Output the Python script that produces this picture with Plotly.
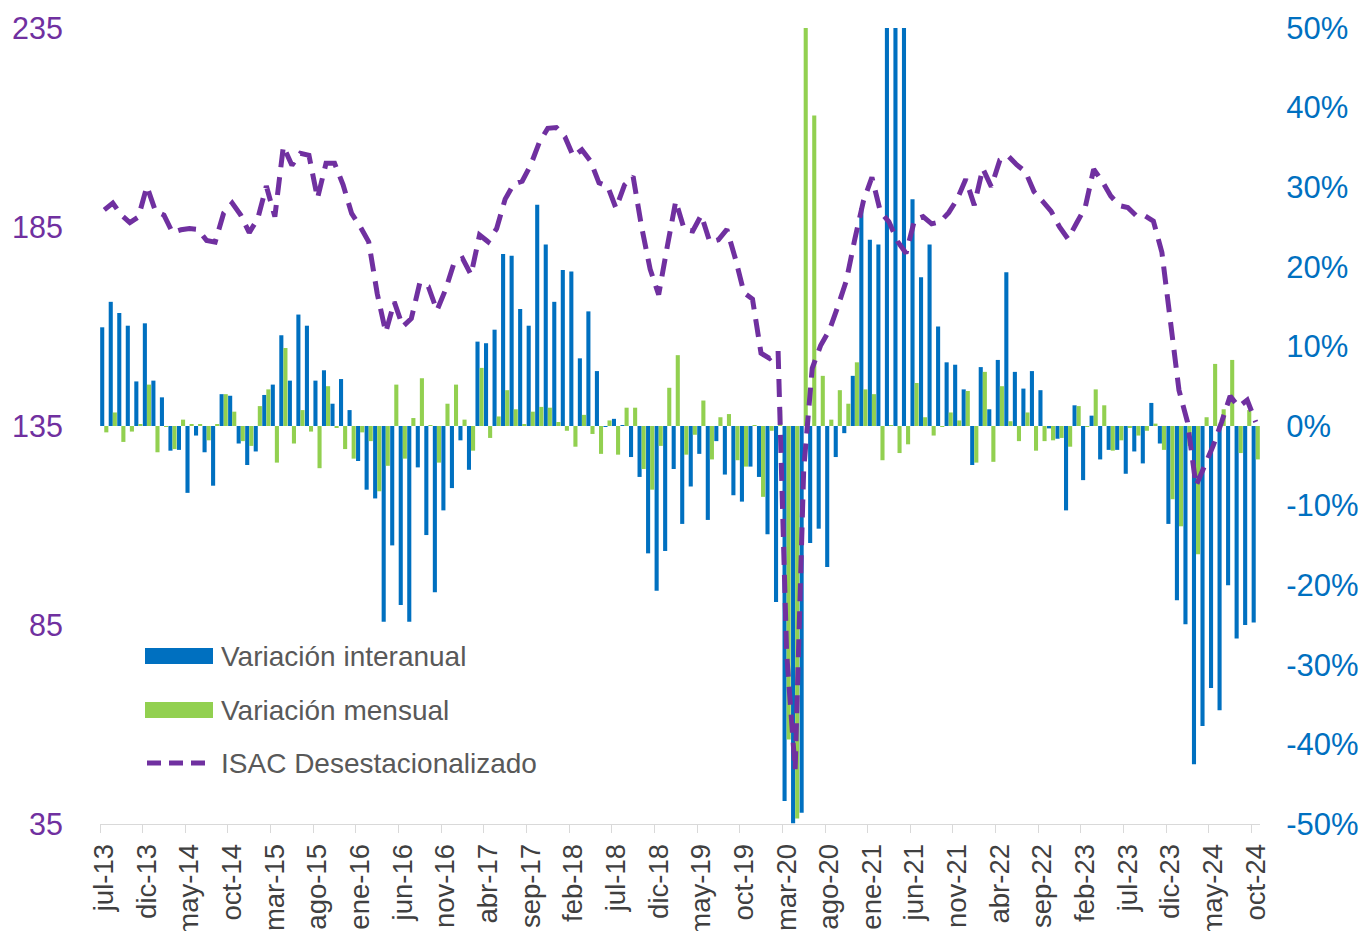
import plotly.graph_objects as go

# ---------------- data ----------------
tick_labels = ["jul-13", "dic-13", "may-14", "oct-14", "mar-15", "ago-15", "ene-16",
               "jun-16", "nov-16", "abr-17", "sep-17", "feb-18", "jul-18", "dic-18",
               "may-19", "oct-19", "mar-20", "ago-20", "ene-21", "jun-21", "nov-21",
               "abr-22", "sep-22", "feb-23", "jul-23", "dic-23", "may-24", "oct-24"]

# Variación interanual (%), jul-13 .. oct-24
interanual = [12.4, 15.6, 14.2, 12.6, 5.6, 12.9, 5.7, 3.6, -3.1, -3.0,
              -8.4, -1.2, -3.3, -7.5, 4.0, 3.8, -2.2, -4.9, -3.2, 3.9,
              5.2, 11.4, 5.7, 14.0, 12.6, 5.7, 7.0, 2.8, 5.9, 2.0,
              -4.4, -8.0, -9.1, -24.6, -15.0, -22.5, -24.6, -5.2, -13.7, -20.9,
              -10.6, -7.8, -1.8, -5.5, 10.6, 10.4, 12.1, 21.6, 21.4, 14.7,
              12.6, 27.8, 22.8, 15.6, 19.6, 19.4, 8.5, 14.4, 6.9, -0.1,
              0.9, 0.1, -3.9, -6.4, -16.0, -20.7, -15.7, -5.4, -12.3, -7.6,
              -3.5, -11.8, -1.9, -6.1, -8.7, -9.5, -5.1, -6.4, -13.6, -22.1,
              -47.1, -49.9, -48.6, -14.7, -12.9, -17.7, -3.9, -0.9, 6.3, 27.4,
              23.4, 22.8, 62.0, 120.0, 75.0, 28.5, 18.7, 22.8, 12.5, 8.0,
              7.7, 4.6, -4.9, 7.4, 2.1, 8.3, 19.3, 6.8, 4.7, 6.9,
              4.5, -0.3, -1.6, -10.6, 2.6, -6.8, 1.3, -4.2, -3.0, -3.0,
              -6.0, -3.2, -4.7, 2.9, -2.2, -12.3, -21.9, -24.9, -42.5, -37.7,
              -32.9, -35.7, -20.0, -26.7, -25.0, -24.7]

# Variación mensual (%)
mensual = [-0.8, 1.7, -2.0, -0.7, 0.2, 5.2, -3.3, -0.1, -2.9, 0.8,
           0.2, 0.2, -1.8, 0.2, 4.0, 1.8, -1.9, -2.5, 2.5, 4.6,
           -4.6, 9.8, -2.2, 2.0, -0.7, -5.3, 5.0, -0.2, -2.9, -4.1,
           -0.8, -1.9, -8.2, -5.0, 5.2, -4.1, 1.0, 6.0, 0.1, -4.6,
           2.8, 5.2, 0.8, -3.1, 7.3, -1.5, 1.2, 4.5, 2.1, 0.2,
           1.8, 2.4, 2.3, 0.5, -0.6, -2.6, 1.4, -1.0, -3.5, 0.7,
           -3.6, 2.3, 2.3, -5.4, -8.0, -2.5, 4.8, 8.9, -3.6, -1.1,
           3.2, -4.2, 1.1, 1.5, -4.3, -5.1, 0.1, -8.9, -0.6, 2.0,
           -39.4, -49.3, 58.0, 39.0, 6.3, 0.8, 4.5, 2.8, 8.0, 4.6,
           4.0, -4.3, 0.1, -3.4, -2.3, 5.4, 1.1, -1.2, -0.1, 1.7,
           0.7, 4.4, -4.6, 6.8, -4.5, 5.0, 0.6, -1.9, 1.7, -3.1,
           -1.9, -1.8, -1.5, -2.6, 2.5, -0.1, 4.6, 2.6, -3.1, -1.8,
           -0.2, -1.2, -0.6, 0.3, -3.0, -9.2, -12.6, -2.5, -16.1, 1.1,
           7.8, 2.1, 8.3, -3.4, 2.0, -4.2]

# ISAC desestacionalizado (índice)
isac = [189.3, 191.0, 188.0, 186.1, 187.5, 195.2, 189.0, 188.0, 183.6, 184.3,
        184.6, 184.4, 181.6, 181.2, 188.5, 191.0, 188.0, 183.6, 187.1, 195.3,
        187.6, 205.3, 200.5, 203.5, 203.0, 192.2, 201.0, 201.0, 195.6, 188.4,
        185.1, 181.3, 168.3, 158.5, 166.2, 160.0, 162.0, 171.0, 170.0, 164.0,
        169.2, 175.9, 177.1, 173.0, 183.0, 181.3, 184.6, 192.0, 195.8, 196.5,
        200.6, 206.2, 209.8, 210.0, 207.7, 202.7, 204.4, 201.6, 196.1, 195.3,
        189.7, 195.6, 197.7, 185.0, 174.4, 168.0, 180.0, 191.5, 184.4, 184.0,
        188.0, 181.2, 181.8, 184.4, 177.0, 168.5, 166.9, 153.3, 152.0, 153.9,
        78.0, 48.6, 124.0, 149.5, 155.3, 159.0, 165.0, 171.5, 182.0, 191.5,
        197.5, 188.8, 186.3, 181.4, 178.4, 186.8, 187.6, 185.8, 186.3, 188.6,
        192.0, 197.0, 190.5, 199.7, 195.1, 201.8, 202.8, 200.6, 198.9, 193.9,
        191.5, 189.0, 185.0, 182.0, 186.0, 189.9, 199.5, 196.5, 192.8, 190.4,
        189.9, 187.8, 187.8, 186.5, 178.6, 160.0, 144.0, 136.0, 120.0, 125.0,
        130.0, 136.0, 142.5, 139.8, 141.5, 136.0]

# ---------------- figure ----------------
BLUE = "#0070C0"
GREEN = "#92D050"
PURPLE = "#7030A0"
FONT = "Liberation Sans, Arial, sans-serif"

n = len(isac)
x = list(range(n))
tick_pos = list(range(0, n, 5))

fig = go.Figure()
fig.add_trace(go.Bar(x=x, y=[v / 100 for v in interanual], name="Variación interanual",
                     marker=dict(color=BLUE, line=dict(width=0)), yaxis="y"))
fig.add_trace(go.Bar(x=x, y=[v / 100 for v in mensual], name="Variación mensual",
                     marker=dict(color=GREEN, line=dict(width=0)), yaxis="y"))
fig.add_trace(go.Scatter(x=x, y=isac, name="ISAC Desestacionalizado", mode="lines",
                         line=dict(color=PURPLE, width=5, dash="18px,10px"),
                         yaxis="y2"))

pct_vals = [v / 10 for v in range(-5, 6)]
pct_text = [f"{int(round(v * 100))}%" for v in pct_vals]

fig.update_layout(
    width=1362, height=931,
    margin=dict(l=100, r=102, t=28, b=107, autoexpand=False),
    paper_bgcolor="white", plot_bgcolor="white",
    showlegend=False,
    barmode="group", bargap=0.04, bargroupgap=0.0,
    font=dict(family=FONT, size=28, color="#404040"),
    xaxis=dict(range=[-0.5, n - 0.5], tickmode="array", tickvals=tick_pos,
               ticktext=tick_labels, tickangle=-90, showgrid=False, zeroline=False,
               showline=True, linecolor="#D9D9D9", linewidth=1, automargin=False,
               ticks="outside", ticklen=8, tickcolor="rgba(0,0,0,0)",
               tickfont=dict(size=27.5, color="#404040", family=FONT),
               minor=dict(tickmode="linear", tick0=-0.5, dtick=5, ticks="outside",
                          ticklen=8, tickcolor="#D9D9D9", tickwidth=1, showgrid=False)),
    yaxis=dict(range=[-0.5, 0.5], side="right", tickmode="array", tickvals=pct_vals,
               ticktext=pct_text, showgrid=False, zeroline=False, showline=False,
               automargin=False,
               ticks="outside", ticklen=19, tickcolor="rgba(0,0,0,0)",
               tickfont=dict(size=31, color=BLUE, family=FONT)),
    yaxis2=dict(range=[35, 235], side="left", overlaying="y", tickmode="array",
                tickvals=[35, 85, 135, 185, 235], showgrid=False, zeroline=False,
                showline=False, automargin=False,
                ticks="outside", ticklen=30, tickcolor="rgba(0,0,0,0)",
                tickfont=dict(size=30.5, color=PURPLE, family=FONT)),
)

# ---------------- manual legend ----------------
def px_x(p):
    return (p - 100) / 1160.0

def px_y(p):
    return (824 - p) / 796.0

legend_items = [("Variación interanual", BLUE, "bar", 656),
                ("Variación mensual", GREEN, "bar", 710),
                ("ISAC Desestacionalizado", PURPLE, "line", 763)]
for label, color, kind, yc in legend_items:
    if kind == "bar":
        fig.add_shape(type="rect", xref="paper", yref="paper",
                      x0=px_x(145), x1=px_x(213), y0=px_y(yc + 8), y1=px_y(yc - 8),
                      fillcolor=color, line=dict(width=0))
    else:
        fig.add_shape(type="line", xref="paper", yref="paper",
                      x0=px_x(147), x1=px_x(211), y0=px_y(yc), y1=px_y(yc),
                      line=dict(color=color, width=5, dash="14px,8px"))
    fig.add_annotation(xref="paper", yref="paper", x=px_x(219), y=px_y(yc),
                       text=label, showarrow=False, xanchor="left", yanchor="middle",
                       font=dict(size=28, color="#595959", family=FONT))

fig.write_html("out.html",
               config={"displayModeBar": False},
               post_script="document.body.style.margin='0px';"
                           "document.body.style.overflow='hidden';")
